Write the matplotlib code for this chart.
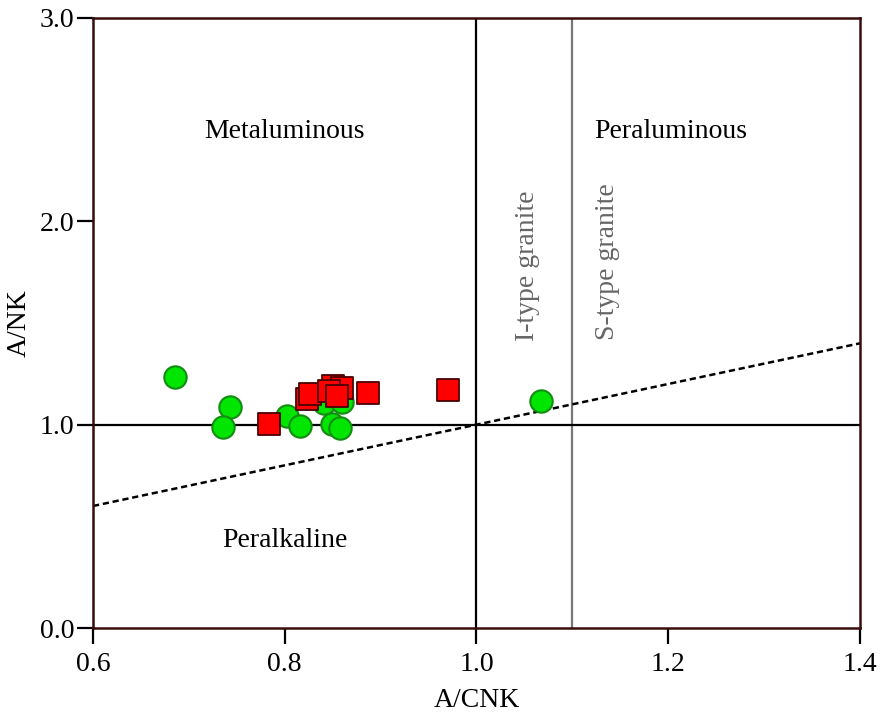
import matplotlib
matplotlib.use('Agg')
from matplotlib import pyplot as plt
import numpy as np

# I-type/other samples (green circles)
circle_acnk = [0.685, 0.743, 0.736, 0.802, 0.816, 0.841, 0.860, 0.849, 0.858, 1.067]
circle_ank = [1.236, 1.087, 0.989, 1.044, 0.995, 1.107, 1.110, 1.005, 0.982, 1.115]

# red squares
square_acnk = [0.784, 0.823, 0.826, 0.850, 0.860, 0.846, 0.855, 0.887, 0.970]
square_ank = [1.003, 1.127, 1.150, 1.189, 1.181, 1.165, 1.139, 1.156, 1.170]

x_ticks = [0.6, 0.8, 1.0, 1.2, 1.4]
y_ticks = [0.0, 1.0, 2.0, 3.0]

plt.rcParams['font.family'] = ['Liberation Serif', 'DejaVu Serif']

fig = plt.figure(figsize=(8.8, 7.16), dpi=100)
ax = fig.add_axes([0.1057, 0.1229, 0.8715, 0.852])

frame = '#3a0c0c'
ax.axvline(1.0, color='black', lw=1.6, zorder=1)
ax.axvline(1.1, color='#777777', lw=1.6, zorder=1)
ax.axhline(1.0, color='black', lw=1.6, zorder=1)
ax.plot([0.6, 1.4], [0.6, 1.4], color='black', lw=1.8, ls=(0, (2.5, 1.5)), zorder=1)

ax.scatter(circle_acnk, circle_ank, s=260, marker='o', facecolor='#00e600',
           edgecolor='#148c14', linewidth=1.5, zorder=3)
ax.scatter(square_acnk, square_ank, s=250, marker='s', facecolor='#ff0000',
           edgecolor='#4a0000', linewidth=1.3, zorder=4)

ax.text(0.8, 2.44, 'Metaluminous', fontsize=20, ha='center', va='center')
ax.text(1.203, 2.44, 'Peraluminous', fontsize=20, ha='center', va='center')
ax.text(0.8, 0.43, 'Peralkaline', fontsize=20, ha='center', va='center')
ax.text(1.053, 1.78, 'I-type granite', fontsize=20, ha='center', va='center',
        rotation=90, color='#666666')
ax.text(1.137, 1.80, 'S-type granite', fontsize=20, ha='center', va='center',
        rotation=90, color='#666666')

ax.set_xlim(0.6, 1.4)
ax.set_ylim(0.0, 3.0)
ax.set_xticks(x_ticks)
ax.set_yticks(y_ticks)
ax.set_xticklabels(['%.1f' % v for v in x_ticks])
ax.set_yticklabels(['%.1f' % v for v in y_ticks])
ax.tick_params(direction='out', length=11.5, width=1.6, labelsize=20, pad=2, color='black')
ax.tick_params(axis='x', pad=6)
for s in ax.spines.values():
    s.set_color(frame)
    s.set_linewidth(1.8)

ax.set_xlabel('A/CNK', fontsize=20, labelpad=8)
ax.set_ylabel('A/NK', fontsize=20, labelpad=6)

fig.savefig('out.png', dpi=100)
